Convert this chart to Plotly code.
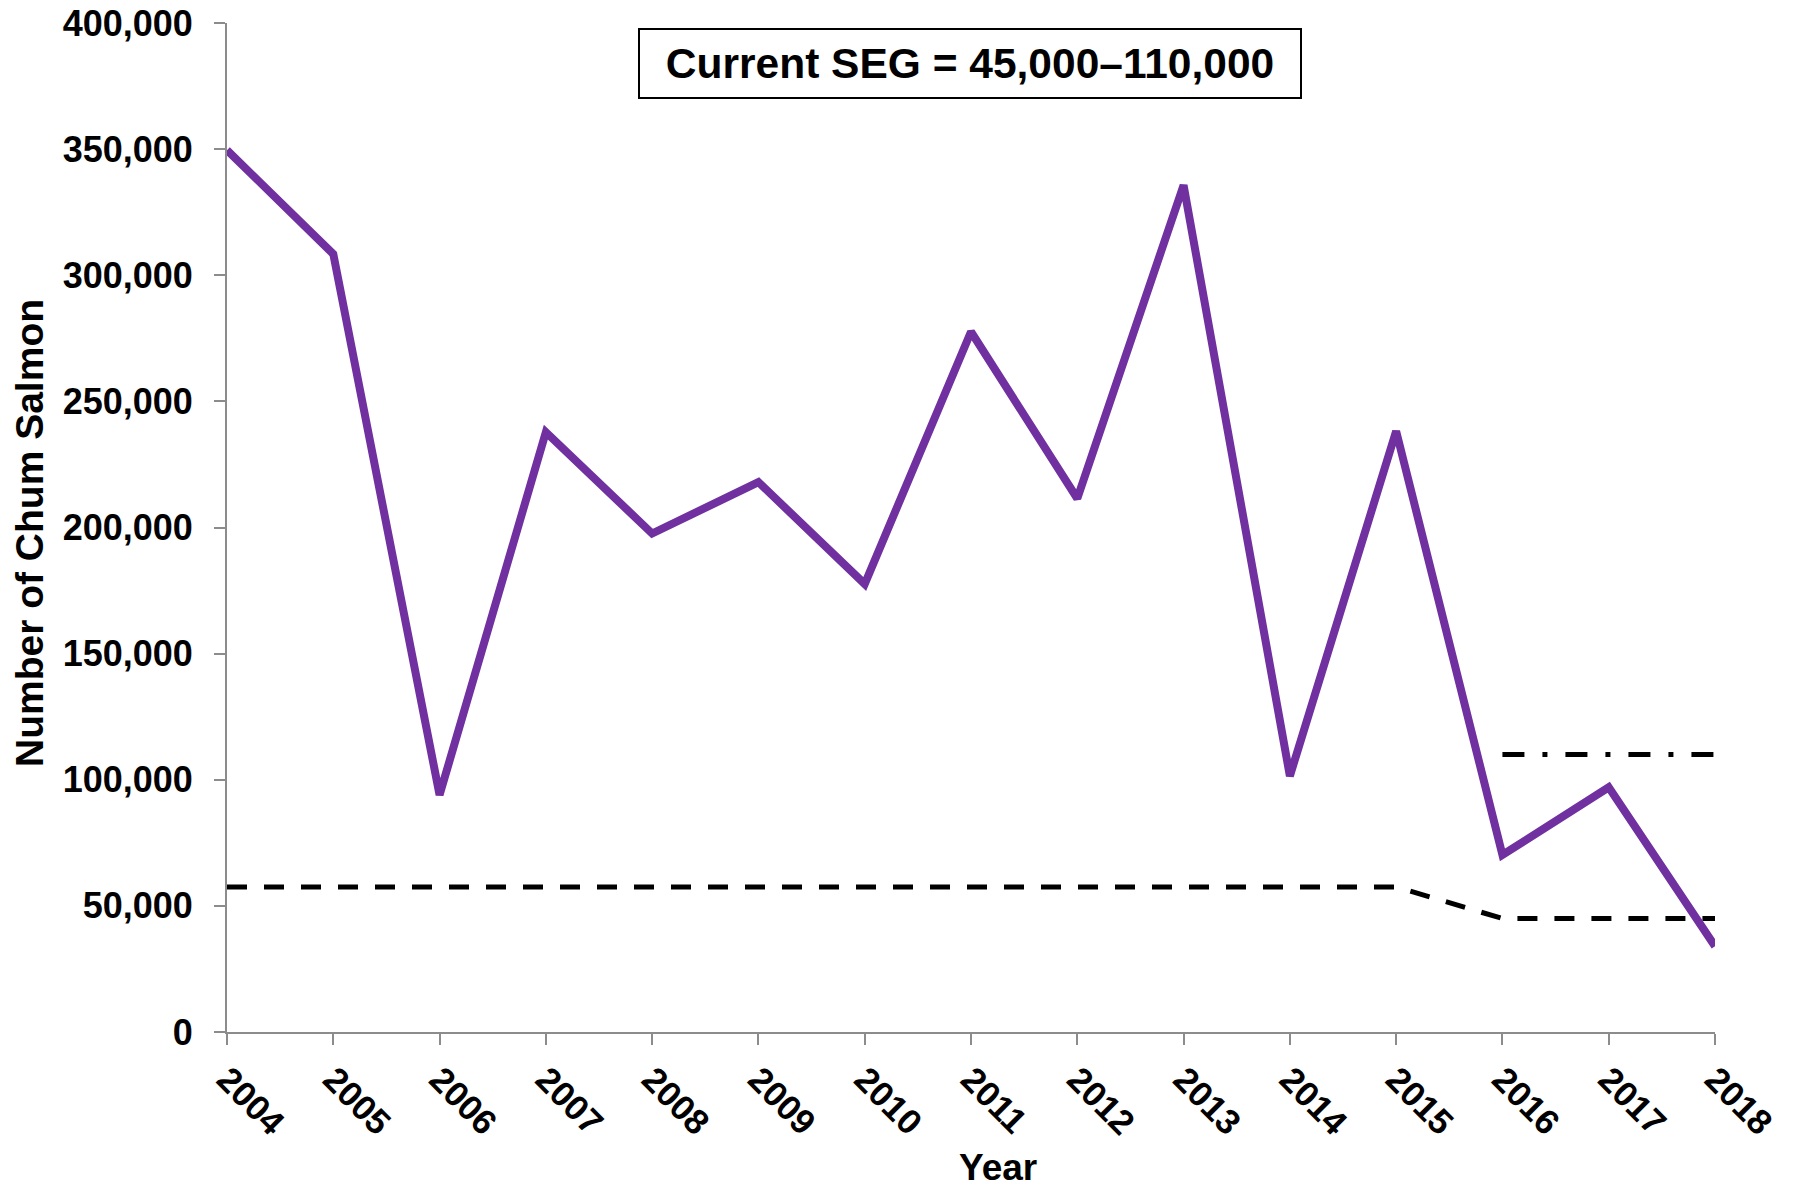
import plotly.graph_objects as go

years = [2004, 2005, 2006, 2007, 2008, 2009, 2010, 2011, 2012, 2013, 2014, 2015, 2016, 2017, 2018]
escapement = [349600, 308400, 94000, 237800, 197600, 218000, 177600, 277600, 211500, 335700, 101500, 238200, 70200, 97000, 34000]

lower_goal_years = [2004, 2015, 2016, 2018]
lower_goal = [57500, 57500, 45000, 45000]

upper_goal_years = [2016, 2018]
upper_goal = [110000, 110000]

y_ticks = [0, 50000, 100000, 150000, 200000, 250000, 300000, 350000, 400000]
x_tick_labels = [str(y) for y in years]

FONT = "Liberation Sans, Arial, sans-serif"
AXIS_GRAY = "#8c8c8c"

fig = go.Figure()
fig.add_trace(go.Scatter(x=lower_goal_years, y=lower_goal, mode="lines",
                         line=dict(color="black", width=5, dash="20px,17px"),
                         hoverinfo="skip", showlegend=False))
fig.add_trace(go.Scatter(x=upper_goal_years, y=upper_goal, mode="lines",
                         line=dict(color="black", width=5, dash="22px,18px,5px,18px"),
                         hoverinfo="skip", showlegend=False))
fig.add_trace(go.Scatter(x=years, y=escapement, mode="lines",
                         line=dict(color="#7030A0", width=8),
                         showlegend=False))

fig.update_layout(
    width=1800, height=1191,
    margin=dict(l=227, r=85, t=23, b=159),
    plot_bgcolor="white", paper_bgcolor="white",
    font=dict(family=FONT, color="black"),
    xaxis=dict(range=[2004, 2018], tickmode="array", tickvals=years, ticktext=x_tick_labels,
               tickangle=45, showgrid=False, zeroline=False, showline=True, automargin=False,
               linecolor=AXIS_GRAY, linewidth=2, ticks="outside", ticklen=11,
               tickcolor=AXIS_GRAY, tickwidth=2, ticklabeloverflow="allow",
               tickfont=dict(family=FONT, size=35, color="black", weight="bold")),
    yaxis=dict(range=[0, 400000], tickmode="array", tickvals=y_ticks, tickformat=",d",
               showgrid=False, zeroline=False, showline=True, automargin=False,
               linecolor=AXIS_GRAY, linewidth=2, ticks="outside", ticklen=11,
               tickcolor=AXIS_GRAY, tickwidth=2, ticklabelstandoff=14,
               ticklabeloverflow="allow",
               tickfont=dict(family=FONT, size=36, color="black", weight="bold")),
    annotations=[
        dict(text="Current SEG = 45,000–110,000", xref="paper", yref="paper",
             x=0.4993, y=0.9594, xanchor="center", yanchor="middle", showarrow=False,
             font=dict(family=FONT, size=42.5, color="black", weight="bold"),
             bordercolor="black", borderwidth=2, borderpad=10, bgcolor="white",
             width=640, height=47),
        dict(text="Year", xref="paper", yref="paper", x=0.5182, y=-0.1338,
             xanchor="center", yanchor="middle", showarrow=False,
             font=dict(family=FONT, size=37, color="black", weight="bold")),
        dict(text="Number of Chum Salmon", xref="paper", yref="paper", x=-0.1331, y=0.4945,
             xanchor="center", yanchor="middle", showarrow=False, textangle=-90,
             font=dict(family=FONT, size=39, color="black", weight="bold")),
    ],
)

fig.write_html("out.html", config={"displayModeBar": False},
               post_script="document.body.style.margin='0';")
